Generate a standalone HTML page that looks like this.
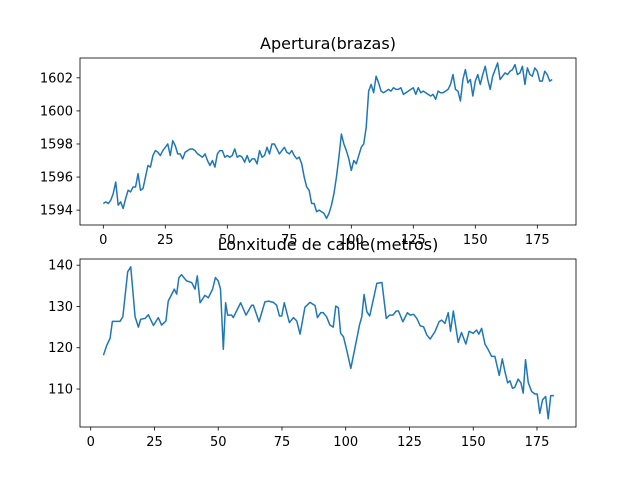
<!DOCTYPE html>
<html><head><meta charset="utf-8"><style>
body{margin:0;background:#fff}
svg{display:block;font-family:"DejaVu Sans","Liberation Sans",sans-serif}
</style></head><body>
<svg id="fig" width="640" height="480" xmlns="http://www.w3.org/2000/svg">
<rect width="640" height="480" fill="#fff"/>
</svg>
<script>
const topValues=[1594.4,1594.5,1594.4,1594.6,1595.0,1595.7,1594.3,1594.5,1594.1,1594.7,1595.2,1595.1,1595.4,1595.4,1596.2,1595.2,1595.3,1596.0,1596.7,1596.6,1597.3,1597.6,1597.5,1597.3,1597.6,1597.8,1598.0,1597.3,1598.2,1597.9,1597.4,1597.4,1597.1,1597.5,1597.6,1597.7,1597.7,1597.6,1597.4,1597.3,1597.2,1597.4,1597.0,1596.7,1597.0,1596.6,1597.4,1597.6,1597.6,1597.2,1597.3,1597.2,1597.3,1597.7,1597.2,1597.3,1597.2,1596.9,1597.3,1596.9,1597.1,1597.1,1596.8,1597.6,1597.2,1597.3,1597.8,1597.4,1598.0,1598.0,1597.7,1597.4,1597.6,1597.8,1597.5,1597.4,1597.6,1597.3,1597.1,1597.2,1596.8,1596.0,1595.4,1595.2,1594.4,1594.4,1593.9,1594.0,1593.9,1593.8,1593.5,1593.8,1594.3,1595.0,1596.0,1597.2,1598.6,1598.0,1597.6,1597.1,1596.4,1597.0,1596.8,1597.3,1597.8,1598.0,1599.0,1601.2,1601.6,1601.1,1602.1,1601.7,1601.2,1601.1,1601.2,1601.3,1601.2,1601.4,1601.3,1601.3,1601.4,1601.0,1601.1,1601.2,1601.3,1601.4,1601.0,1601.4,1601.1,1601.2,1601.1,1601.0,1600.9,1601.0,1600.7,1601.2,1601.1,1601.1,1601.2,1601.3,1601.6,1602.2,1601.3,1601.2,1600.6,1601.9,1602.5,1601.7,1601.9,1600.9,1601.8,1602.2,1601.6,1602.2,1602.7,1601.9,1601.3,1602.1,1602.5,1602.9,1601.9,1602.1,1602.3,1602.2,1602.4,1602.5,1602.8,1602.2,1602.3,1602.7,1601.6,1602.6,1602.2,1602.1,1602.6,1602.4,1601.8,1601.8,1602.4,1602.2,1601.8,1601.9];
const botX=[5,6.3,7.6,8.5,11.5,12.6,14.5,15.7,17.4,18.7,19.6,21.3,22.6,24.6,26.5,27.8,29.5,30.4,32.8,33.7,34.6,35.6,37.6,39.6,40.9,41.8,42.9,44.8,46.1,47.8,48.9,50,50.9,52,52.9,53.7,55.3,55.9,58.8,60.9,63.1,63.8,66,68.3,69.7,71.6,72.9,74,74.9,75.9,77.9,79.5,80.8,82.1,84,86,88,88.9,90.2,91.2,92.5,93.8,95.1,96.1,97.1,98,99.1,100.4,102,103.7,105.4,106.3,107.2,108.3,109.4,110.9,112.2,114.2,115.9,117.2,118.5,119.8,120.7,122.4,124.2,125.3,126.6,127.9,129.2,130.5,131.8,133.1,135,136.6,137.6,138.9,140.2,141.1,142.2,144.1,145.4,147.1,148.4,150,151.3,152.2,153.3,154.6,155.9,157.2,158.5,160.2,161.4,162.4,163.5,164.4,165.4,166.3,167.6,168.7,169.6,170.5,171.6,172.9,174.2,175.1,176.1,177.2,178.4,179.4,180.4,181.7];
const botValues=[118.2,120.6,122.3,126.4,126.4,127.5,138.4,139.6,127.5,125.0,126.9,127.1,128.0,125.4,127.3,125.5,126.5,131.3,134.2,133.0,137.0,137.7,136.2,135.8,134.2,137.4,130.9,132.7,132.1,134.2,137.0,136.2,134.2,119.6,130.9,127.9,127.9,127.3,130.9,127.9,130.3,130.3,126.3,131.1,131.3,131.0,130.3,127.7,127.7,130.9,126.1,127.3,126.5,123.3,129.8,131.0,130.2,127.3,128.5,128.5,127.5,125.5,125.0,130.1,129.7,123.5,122.7,119.4,115.0,120.2,125.5,127.5,132.9,128.7,127.7,131.9,135.6,135.8,127.1,127.9,127.9,128.9,128.9,126.3,128.5,127.9,128.1,127.1,125.3,125.1,123.1,122.1,123.9,126.3,126.7,125.9,128.5,124.0,128.9,121.3,123.7,120.9,124.0,123.5,124.3,123.3,124.7,120.9,119.5,117.9,117.9,113.3,117.3,114.3,111.5,112.0,110.2,110.4,112.4,111.5,109.0,117.1,111.5,109.4,108.8,108.8,104.1,107.4,108.2,102.8,108.4,108.4];
const topXTicks=[0,25,50,75,100,125,150,175];
const topYTicks=[1594,1596,1598,1600,1602];
const botXTicks=[0,25,50,75,100,125,150,175];
const botYTicks=[110,120,130,140];

const NS="http://www.w3.org/2000/svg";
const svg=document.getElementById('fig');
function mk(t,a,p){const e=document.createElementNS(NS,t);for(const k in a)e.setAttribute(k,a[k]);(p||svg).appendChild(e);return e;}

function panel(name,box,xd,yd,xs,ys,xt,yt,title){
  const g=mk('g',{});
  
  
  const sx=v=>box.l+(v-xd[0])/(xd[1]-xd[0])*(box.r-box.l);
  const sy=v=>box.b-(v-yd[0])/(yd[1]-yd[0])*(box.b-box.t);
  let d='';
  for(let i=0;i<ys.length;i++){d+=(i?'L':'M')+sx(xs[i]).toFixed(2)+' '+sy(ys[i]).toFixed(2);}
  const p=mk('path',{d:d,fill:'none',stroke:'#1f77b4','stroke-width':1.5,'stroke-linejoin':'round'},g);
  
  
  const fr=mk('rect',{x:box.l,y:box.t,width:box.r-box.l,height:box.b-box.t,fill:'none',stroke:'#000','stroke-width':0.8},g);
  
  
  xt.forEach(v=>{const x=sx(v);
    mk('line',{x1:x,x2:x,y1:box.b,y2:box.b+3.5,stroke:'#000','stroke-width':0.8},g);
    const t=mk('text',{x:x,y:box.b+19,'font-size':13,'text-anchor':'middle',fill:'#000'},g);
    t.textContent=v;
    
    });
  yt.forEach(v=>{const y=sy(v);
    mk('line',{x1:box.l-3.5,x2:box.l,y1:y,y2:y,stroke:'#000','stroke-width':0.8},g);
    const t=mk('text',{x:box.l-7,y:y+4.5,'font-size':13,'text-anchor':'end',fill:'#000'},g);
    t.textContent=v;
    
    });
  const tt=mk('text',{x:(box.l+box.r)/2,y:box.t-9,'font-size':16,'text-anchor':'middle',fill:'#000'},g);
  tt.textContent=title;
  
  
}
const topX=topValues.map((_,i)=>i);
panel('apertura-chart',{l:80,r:576,t:58,b:225},[-9.4,190.6],[1593.1,1603.2],topX,topValues,topXTicks,topYTicks,'Apertura(brazas)');
panel('lonxitude-chart',{l:80,r:576,t:259,b:427},[-4.2,190.3],[100.8,141.5],botX,botValues,botXTicks,botYTicks,'Lonxitude de cable(metros)');
</script>
</body></html>
